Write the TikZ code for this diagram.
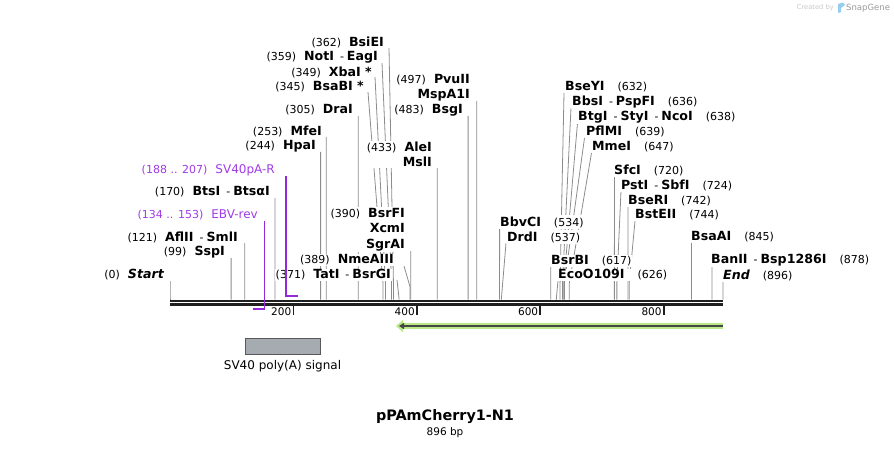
\documentclass[tikz,border=0pt]{standalone}
\usepackage{fontspec}
\setmainfont{DejaVu Sans}[BoldFont={DejaVu Sans Bold},ItalicFont={DejaVu Sans Oblique},BoldItalicFont={DejaVu Sans Bold Oblique}]
\usetikzlibrary{arrows.meta,positioning,backgrounds}
\definecolor{CutLine}{RGB}{140,140,140}
\definecolor{PrimerText}{RGB}{160,60,230}
\definecolor{PrimerLine}{RGB}{150,40,220}
\definecolor{FeatGreen}{RGB}{184,233,134}
\definecolor{FeatDark}{RGB}{70,70,70}
\definecolor{PolyA}{RGB}{166,171,178}
\definecolor{soft}{RGB}{200,200,200}
\definecolor{SnapBlue}{RGB}{150,205,240}
\newcommand{\enz}[1]{{\fontsize{12.6}{15.5}\selectfont\bfseries #1}}
\newcommand{\gapl}{\hspace{8pt}}
\newcommand{\gapr}{\hspace{13pt}}
\newcommand{\sepd}{\hspace{6pt}-\hspace{3pt}}

\begin{document}
\begin{tikzpicture}[x=1pt,y=-1pt,
   lbl/.style={font=\fontsize{11}{15.5}\selectfont,fill=white,inner sep=1pt,align=right,anchor=east},
   rlbl/.style={lbl,align=left,anchor=west},
   cut/.style={CutLine,line width=0.8pt},
   primer/.style={PrimerLine,line width=1.6pt},
   plbl/.style={lbl,text=PrimerText}]
  \useasboundingbox (0,0) rectangle (894,449);
  % sequence line and ruler
  \coordinate (s0) at (170,301);
  \coordinate (s1) at (723,301);
  \draw[line width=2.3pt,black!88] (s0) -- (s1) ([yshift=-3.6pt]s0) -- ([yshift=-3.6pt]s1);
  \foreach \v in {200,400,600,800}{
    \coordinate (k\v) at ({170+0.6172*\v},305.5);
    \draw[line width=1.8pt,black!88] (k\v) -- ++(0,9);
    \node[font=\fontsize{10.5}{12}\selectfont,anchor=east,inner sep=0pt] (kl\v) at ([xshift=-2pt,yshift=-6.5pt]k\v) {\v};
  }
  % cut sites, labels on the left
  \foreach \i/\p/\e/\y/\tx/\ty/\ky/\txt in {
      st/0/164/275/170/281/298/{(0)\gapl\enz{\itshape Start}},
      ssp/99/225/252/231.1/258/298/{(99)\gapl\enz{SspI}},
      afl/121/238/237/244.7/243/298/{(121)\gapl\enz{AflII}\sepd\enz{SmlI}},
      bts/170/270/192/274.9/198/298/{(170)\gapl\enz{BtsI}\sepd\enz{BtsαI}},
      hpa/244/316/146/320.6/152/298/{(244)\gapl\enz{HpaI}},
      mfe/253/322/131/326.2/137/298/{(253)\gapl\enz{MfeI}},
      dra/305/353/110/358.2/116/298/{(305)\gapl\enz{DraI}},
      bsab/345/364/87/368/92/283/{(345)\gapl\enz{BsaBI *}},
      xba/349/372/72/375/77/283/{(349)\gapl\enz{XbaI *}},
      not/359/378/57/382/63/283/{(359)\gapl\enz{NotI}\sepd\enz{EagI}},
      bsie/362/384/42/389/48/283/{(362)\gapl\enz{BsiEI}},
      tat/371/391/275/397/280/298/{(371)\gapl\enz{TatI}\sepd\enz{BsrGI}},
      nme/389/394/260/404/266/287/{(389)\gapl\enz{NmeAIII}},
      bsrf/390/405/229.7/410.7/251/298/{(390)\gapl\enz{BsrFI}\\\enz{XcmI}\\\enz{SgrAI}},
      ale/433/432/154.5/437.3/168/298/{(433)\gapl\enz{AleI}\\\enz{MslI}},
      pvu/497/470/87.5/476.7/101/298/{(497)\gapl\enz{PvuII}\\\enz{MspA1I}},
      bsg/483/463/110/468.1/116/298/{(483)\gapl\enz{BsgI}}}{
    \coordinate (p\i) at ({170+0.6172*\p},299.5);
    \coordinate (t\i) at (\tx,\ty);
    \node[lbl] (l\i) at ({\e+1},\y) {\txt};
    \begin{scope}[on background layer]
      \draw[cut] (t\i) -- ({170+0.6172*\p},\ky) -- (p\i);
    \end{scope}
  }
  % cut sites, labels on the right
  \foreach \i/\p/\s/\y/\tx/\ty/\ky/\txt in {
      bbv/534/500/222/499.6/228/298/{\enz{BbvCI}\gapr(534)},
      drd/537/507/237/506/243/298/{\enz{DrdI}\gapr(537)},
      bsrb/617/551/261/550.8/267/298/{\enz{BsrBI}\gapr(617)},
      eco/626/558/275/558/281/298/{\enz{EcoO109I}\gapr(626)},
      bsey/632/565/87/564/93/283/{\enz{BseYI}\gapr(632)},
      bbs/636/572/102/571/108/283/{\enz{BbsI}\sepd\enz{PspFI}\gapr(636)},
      btg/638/578/117/577.5/123/283/{\enz{BtgI}\sepd\enz{StyI}\sepd\enz{NcoI}\gapr(638)},
      pfl/639/586/131/584.5/138/283/{\enz{PflMI}\gapr(639)},
      mme/647/592/147/591.5/153/283/{\enz{MmeI}\gapr(647)},
      sfc/720/614/170/614.4/176/298/{\enz{SfcI}\gapr(720)},
      pst/724/621/185/621/191/283/{\enz{PstI}\sepd\enz{SbfI}\gapr(724)},
      bser/742/628/201/628/207/298/{\enz{BseRI}\gapr(742)},
      bste/744/635/215/635/221/283/{\enz{BstEII}\gapr(744)},
      bsaa/845/691/237/691.5/243/298/{\enz{BsaAI}\gapr(845)},
      ban/878/711/260/711.9/266/298/{\enz{BanII}\sepd\enz{Bsp1286I}\gapr(878)},
      end/896/723/275/723/281/298/{\enz{\itshape End}\gapr(896)}}{
    \coordinate (p\i) at ({170+0.6172*\p},299.5);
    \coordinate (t\i) at (\tx,\ty);
    \node[rlbl] (l\i) at ({\s-1},\y) {\txt};
    \begin{scope}[on background layer]
      \draw[cut] (t\i) -- ({170+0.6172*\p},\ky) -- (p\i);
    \end{scope}
  }
  % primers
  \node[plbl] (lebv) at (259,215) {(134 .. 153)\gapl{\fontsize{12}{14}\selectfont EBV-rev}};
  \coordinate (ebvA) at (264.4,221);
  \coordinate (ebvB) at (252.7,309);
  \draw[primer] (ebvA) |- (ebvB);
  \node[plbl] (lsv) at (276,170) {(188 .. 207)\gapl{\fontsize{12}{14}\selectfont SV40pA-R}};
  \coordinate (svA) at (286,176);
  \coordinate (svB) at (297.8,296);
  \draw[primer] (svA) |- (svB);
  % features
  \coordinate (fa) at (723,326);
  \coordinate (fb) at (396,326);
  \draw[FeatGreen,line width=6pt,-{Triangle[length=7pt,width=12pt]}] (fa) -- (fb);
  \draw[FeatDark,line width=2pt,-{Triangle[length=5pt,width=6pt]}] (fa) -- ([xshift=3pt]fb);
  \node[draw=black!65,fill=PolyA,line width=0.8pt,minimum width=75pt,minimum height=16pt,inner sep=0pt] (pa) at (282.5,346) {};
  \node[font=\fontsize{12}{14}\selectfont,inner sep=0pt,below=6pt of pa] (paname) {SV40 poly(A) signal};
  % title
  \node[font=\fontsize{14.4}{16}\selectfont\bfseries] (title) at (445,417) {pPAmCherry1-N1};
  \node[font=\fontsize{10.5}{12}\selectfont] (size) at (445,433) {896 bp};
  \node[font=\fontsize{6.7}{8}\selectfont,text=soft,anchor=east,inner sep=0pt] (cby) at (834,8) {Created by};
  \fill[SnapBlue] (838,13) -- (838,4) -- (843,2.5) -- (845,5) -- (841,8) -- (841,12) -- cycle;
  \node[font=\fontsize{8.5}{10}\selectfont,text=black!40,anchor=west,inner sep=0pt] (sg) at (846,8) {SnapGene};
\end{tikzpicture}
\end{document}
